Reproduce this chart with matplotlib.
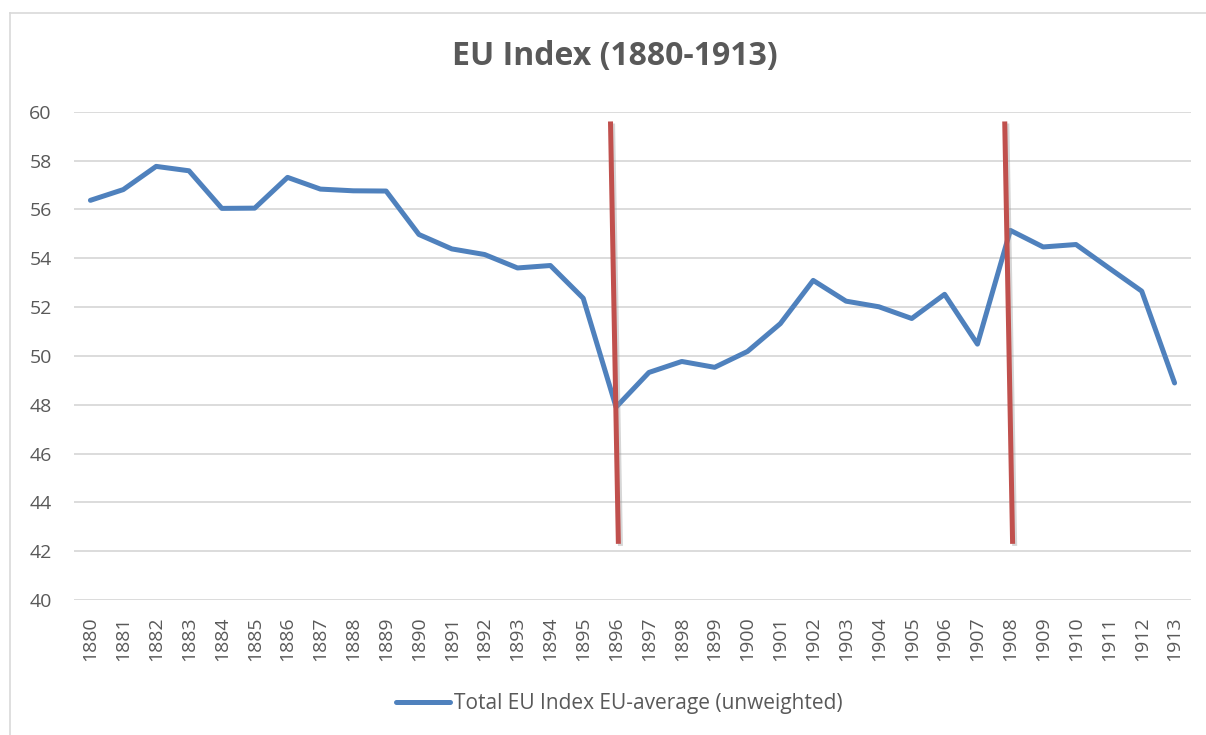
import matplotlib
matplotlib.use("Agg")
import matplotlib.pyplot as plt
import matplotlib.patheffects as pe

plt.rcParams['font.family'] = ['Open Sans', 'DejaVu Sans']

# data
years = list(range(1880, 1914))
eu_index = [56.37, 56.81, 57.76, 57.58, 56.04, 56.05, 57.31, 56.83, 56.76, 56.75,
            54.97, 54.38, 54.15, 53.60, 53.70, 52.36, 47.90, 49.32, 49.77, 49.53,
            50.18, 51.32, 53.09, 52.24, 52.01, 51.53, 52.52, 50.48, 55.14, 54.46,
            54.56, 53.60, 52.65, 48.89]
marker_years = [1896, 1908]
marker_top = 59.6
marker_bottom = 42.3
yticks = list(range(40, 61, 2))

grey = "#595959"
W, H = 1206, 735
fig = plt.figure(figsize=(W / 100, H / 100), dpi=100)
ax = fig.add_axes([74 / W, 1 - 600 / H, (1191 - 74) / W, (600 - 111.7) / H])

# outer chart frame (only top and left edges are inside the picture)
fig.add_artist(plt.Line2D([10 / W, 1], [1 - 13 / H, 1 - 13 / H], transform=fig.transFigure,
                          color="#D9D9D9", lw=1.2))
fig.add_artist(plt.Line2D([10 / W, 10 / W], [0, 1 - 13 / H], transform=fig.transFigure,
                          color="#D9D9D9", lw=1.2))

xpos = list(range(len(years)))
ax.plot(xpos, eu_index, color="#4F81BD", lw=3.6, solid_joinstyle="round",
        solid_capstyle="round", label="Total EU Index EU-average (unweighted)", zorder=3)

# hand-drawn red marker lines (slightly tilted, with a soft shadow)
for yr in marker_years:
    i = years.index(yr)
    ax.plot([i - 0.17, i + 0.07], [marker_top, marker_bottom], color="#C0504D", lw=3.6,
            solid_capstyle="butt", zorder=4, clip_on=False,
            path_effects=[pe.SimpleLineShadow(offset=(1.5, -1.5), shadow_color="#999999", alpha=0.4),
                          pe.Normal()])

ax.set_xlim(-0.5, len(years) - 0.5)
ax.set_ylim(40, 60)
ax.set_yticks(yticks)
ax.set_xticks(xpos)
ax.set_xticklabels([str(y) for y in years], rotation=90)
ax.tick_params(axis="both", length=0, labelsize=14, labelcolor=grey)
ax.tick_params(axis="y", pad=16)
ax.tick_params(axis="x", pad=12)
ax.grid(axis="y", color="#D9D9D9", lw=1.3)
ax.set_axisbelow(True)
for s in ax.spines.values():
    s.set_visible(False)

fig.text(615 / W, 1 - 57 / H, "EU Index (1880-1913)", ha="center", va="center",
         fontsize=23, fontweight="bold", color=grey)

leg = fig.legend(loc="center", bbox_to_anchor=(619 / W, 1 - 704 / H), frameon=False,
                 fontsize=15, handlelength=2.6, handletextpad=0.2)
for t in leg.get_texts():
    t.set_color(grey)

fig.savefig("out.png", dpi=100)
